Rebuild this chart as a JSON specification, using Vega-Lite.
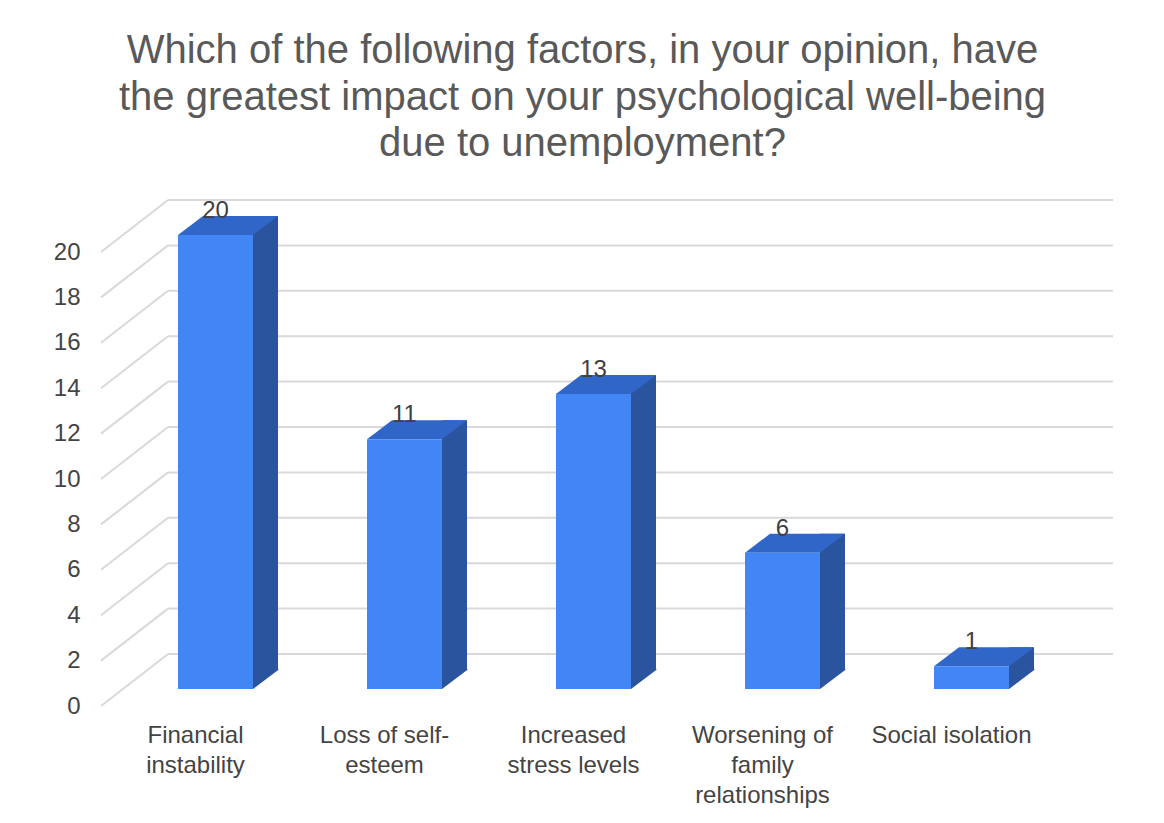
{
  "$schema": "https://vega.github.io/schema/vega-lite/v6.json",
  "width": 945,
  "height": 454,
  "autosize": {"type": "none"},
  "padding": {"left": 101, "top": 252, "right": 118, "bottom": 117},
  "background": "white",
  "title": {
    "text": ["Which of the following factors, in your opinion, have", "the greatest impact on your psychological well-being", "due to unemployment?"],
    "font": "Liberation Sans",
    "fontSize": 40,
    "fontWeight": "normal",
    "color": "#595959",
    "lineHeight": 46.5,
    "anchor": "middle",
    "dx": 9,
    "offset": 35
  },
  "config": {
    "view": {"stroke": null},
    "axis": {"labelFont": "Liberation Sans", "labelColor": "#444444", "labelFontSize": 24, "domain": false, "ticks": false, "grid": false}
  },
  "datasets": {
    "bars": [
      {"factor": "Financial instability", "count": 20},
      {"factor": "Loss of self-esteem", "count": 11},
      {"factor": "Increased stress levels", "count": 13},
      {"factor": "Worsening of family relationships", "count": 6},
      {"factor": "Social isolation", "count": 1}
    ],
    "ticks": [
      {"v": 0}, {"v": 2}, {"v": 4}, {"v": 6}, {"v": 8}, {"v": 10},
      {"v": 12}, {"v": 14}, {"v": 16}, {"v": 18}, {"v": 20}
    ]
  },
  "layer": [
    {
      "data": {"name": "ticks"},
      "mark": {"type": "rule", "color": "#d9d9d9", "strokeWidth": 2, "xOffset": 67, "x2Offset": 67, "yOffset": -52},
      "encoding": {
        "x": {"datum": "Financial instability", "bandPosition": 0, "type": "nominal", "title": null},
        "x2": {"value": "width"},
        "y": {
          "field": "v", "type": "quantitative",
          "scale": {"domain": [0, 20], "nice": false, "zero": true},
          "axis": {"values": [0, 2, 4, 6, 8, 10, 12, 14, 16, 18, 20], "labelPadding": 21, "title": null}
        }
      }
    },
    {
      "data": {"name": "ticks"},
      "mark": {"type": "rule", "color": "#d9d9d9", "strokeWidth": 2, "x2Offset": 67, "y2Offset": -52},
      "encoding": {
        "x": {"datum": "Financial instability", "bandPosition": 0, "type": "nominal", "title": null},
        "x2": {"datum": "Financial instability", "bandPosition": 0},
        "y": {"field": "v", "type": "quantitative"},
        "y2": {"field": "v"}
      }
    },
    {
      "data": {"name": "bars"},
      "mark": {"type": "bar", "color": "#2a549e", "width": 25, "xOffset": 70, "yOffset": -36, "y2Offset": -36},
      "encoding": {
        "x": {"field": "factor", "type": "nominal", "title": null},
        "y": {"field": "count", "type": "quantitative"},
        "y2": {"datum": 0}
      }
    },
    {
      "data": {"name": "bars"},
      "mark": {"type": "point", "shape": "M56,-37L56,-17L57.5,-17L83,-36.3L83,-37Z", "size": 4, "filled": true, "opacity": 1, "strokeWidth": 0, "color": "#2a549e"},
      "encoding": {
        "x": {"field": "factor", "type": "nominal", "title": null},
        "y": {"datum": 0}
      }
    },
    {
      "data": {"name": "bars"},
      "mark": {"type": "point", "shape": "M-17.5,-17L57.5,-17L82.5,-36L7.5,-36Z", "size": 4, "filled": true, "opacity": 1, "strokeWidth": 0, "color": "#3166c9"},
      "encoding": {
        "x": {"field": "factor", "type": "nominal", "title": null},
        "y": {"field": "count", "type": "quantitative"}
      }
    },
    {
      "data": {"name": "bars"},
      "mark": {"type": "bar", "color": "#4285f4", "width": 75, "xOffset": 20, "yOffset": -17, "y2Offset": -17},
      "encoding": {
        "x": {
          "field": "factor", "type": "nominal", "title": null,
          "scale": {
            "domain": ["Financial instability", "Loss of self-esteem", "Increased stress levels", "Worsening of family relationships", "Social isolation"],
            "paddingInner": 0, "paddingOuter": 0
          },
          "axis": {
            "labelAngle": 0, "labelAlign": "center", "labelPadding": 17, "labelLineHeight": 30, "labelLimit": 300, "labelOverlap": false, "labelBaseline": "top",
            "labelExpr": "datum.value == 'Financial instability' ? ['Financial', 'instability'] : datum.value == 'Loss of self-esteem' ? ['Loss of self-', 'esteem'] : datum.value == 'Increased stress levels' ? ['Increased', 'stress levels'] : datum.value == 'Worsening of family relationships' ? ['Worsening of', 'family', 'relationships'] : datum.label"
          }
        },
        "y": {"field": "count", "type": "quantitative"},
        "y2": {"datum": 0}
      }
    },
    {
      "data": {"name": "bars"},
      "mark": {"type": "text", "font": "Liberation Sans", "fontSize": 24, "color": "#404040", "baseline": "alphabetic", "xOffset": 20, "yOffset": -34},
      "encoding": {
        "x": {"field": "factor", "type": "nominal", "title": null},
        "y": {"field": "count", "type": "quantitative"},
        "text": {"field": "count", "type": "quantitative"}
      }
    }
  ]
}
